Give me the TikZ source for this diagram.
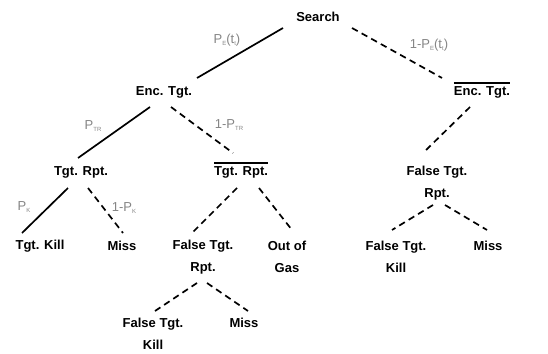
\documentclass[tikz,border=0pt]{standalone}
\usepackage{fontspec}
\setmainfont{Liberation Sans}
\usetikzlibrary{calc}
\definecolor{lblgray}{HTML}{858585}
\newcommand\obar[1]{\vbox{\hrule height 1.3pt\kern 2.6pt\hbox{#1}}}
\newcommand\sbs[1]{\raisebox{-2.2pt}{\fontsize{6}{6}\selectfont #1}}
\begin{document}
\begin{tikzpicture}[x=1pt,y=-1pt,
  st/.style={font=\fontsize{13}{22}\selectfont\bfseries, align=center, inner sep=0pt},
  lbl/.style={font=\fontsize{13}{13}\selectfont, text=lblgray, inner sep=0pt},
  solidln/.style={line width=1.7pt},
  dashln/.style={line width=1.7pt, dash pattern=on 6.5pt off 4.5pt}]
\useasboundingbox (0,0) rectangle (548,353);
% nodes
\node[st] (search) at (318,17) {Search};
\node[st] (enc) at (164,92) {Enc. Tgt.};
\node[st] (encbar) at (482,90) {\obar{Enc. Tgt.}};
\node[st] (rpt) at (81,172) {Tgt. Rpt.};
\node[st] (rptbar) at (241,170) {\obar{Tgt. Rpt.}};
\node[st] (falser) at (437,183) {False Tgt.\\Rpt.};
\node[st] (kill) at (40,246) {Tgt. Kill};
\node[st] (miss) at (122,246) {Miss};
\node[st] (falsem) at (203,257) {False Tgt.\\Rpt.};
\node[st] (gas) at (287,257) {Out of\\Gas};
\node[st] (fkillr) at (396,257) {False Tgt.\\Kill};
\node[st] (missr) at (488,246) {Miss};
\node[st] (fkillb) at (153,334) {False Tgt.\\Kill};
\node[st] (missb) at (244,323) {Miss};
% labels
\node[lbl] (lpe) at (227,40) {P\sbs{E}(t\sbs{t})};
\node[lbl] (lnpe) at (429,45) {1-P\sbs{E}(t\sbs{t})};
\node[lbl] (lptr) at (93,126) {P\sbs{TR}};
\node[lbl] (lnptr) at (229,125) {1-P\sbs{TR}};
\node[lbl] (lpk) at (24,207) {P\sbs{K}};
\node[lbl] (lnpk) at (124,208) {1-P\sbs{K}};
% connectors
\draw[solidln] ($(search)+(-35,11)$) -- ($(enc)+(33,-14)$);
\draw[dashln] ($(search)+(34,11)$) -- ($(encbar)+(-40,-12)$);
\draw[solidln] ($(enc)+(-14,15)$) -- ($(rpt)+(-3,-14)$);
\draw[dashln] ($(enc)+(7,15)$) -- ($(rptbar)+(-8,-17)$);
\draw[dashln] ($(encbar)+(-12,17)$) -- ($(falser)+(-14,-30)$);
\draw[solidln] ($(rpt)+(-13,16)$) -- ($(kill)+(-18,-13)$);
\draw[dashln] ($(rpt)+(7,16)$) -- ($(miss)+(1,-13)$);
\draw[dashln] ($(rptbar)+(-4,18)$) -- ($(falsem)+(-11,-24)$);
\draw[dashln] ($(rptbar)+(18,18)$) -- ($(gas)+(5,-27)$);
\draw[dashln] ($(falsem)+(-6,26)$) -- ($(fkillb)+(2,-23)$);
\draw[dashln] ($(falsem)+(4,26)$) -- ($(missb)+(4,-12)$);
\draw[dashln] ($(falser)+(-4,22)$) -- ($(fkillr)+(-4,-27)$);
\draw[dashln] ($(falser)+(8,22)$) -- ($(missr)+(-1,-16)$);
\end{tikzpicture}
\end{document}
